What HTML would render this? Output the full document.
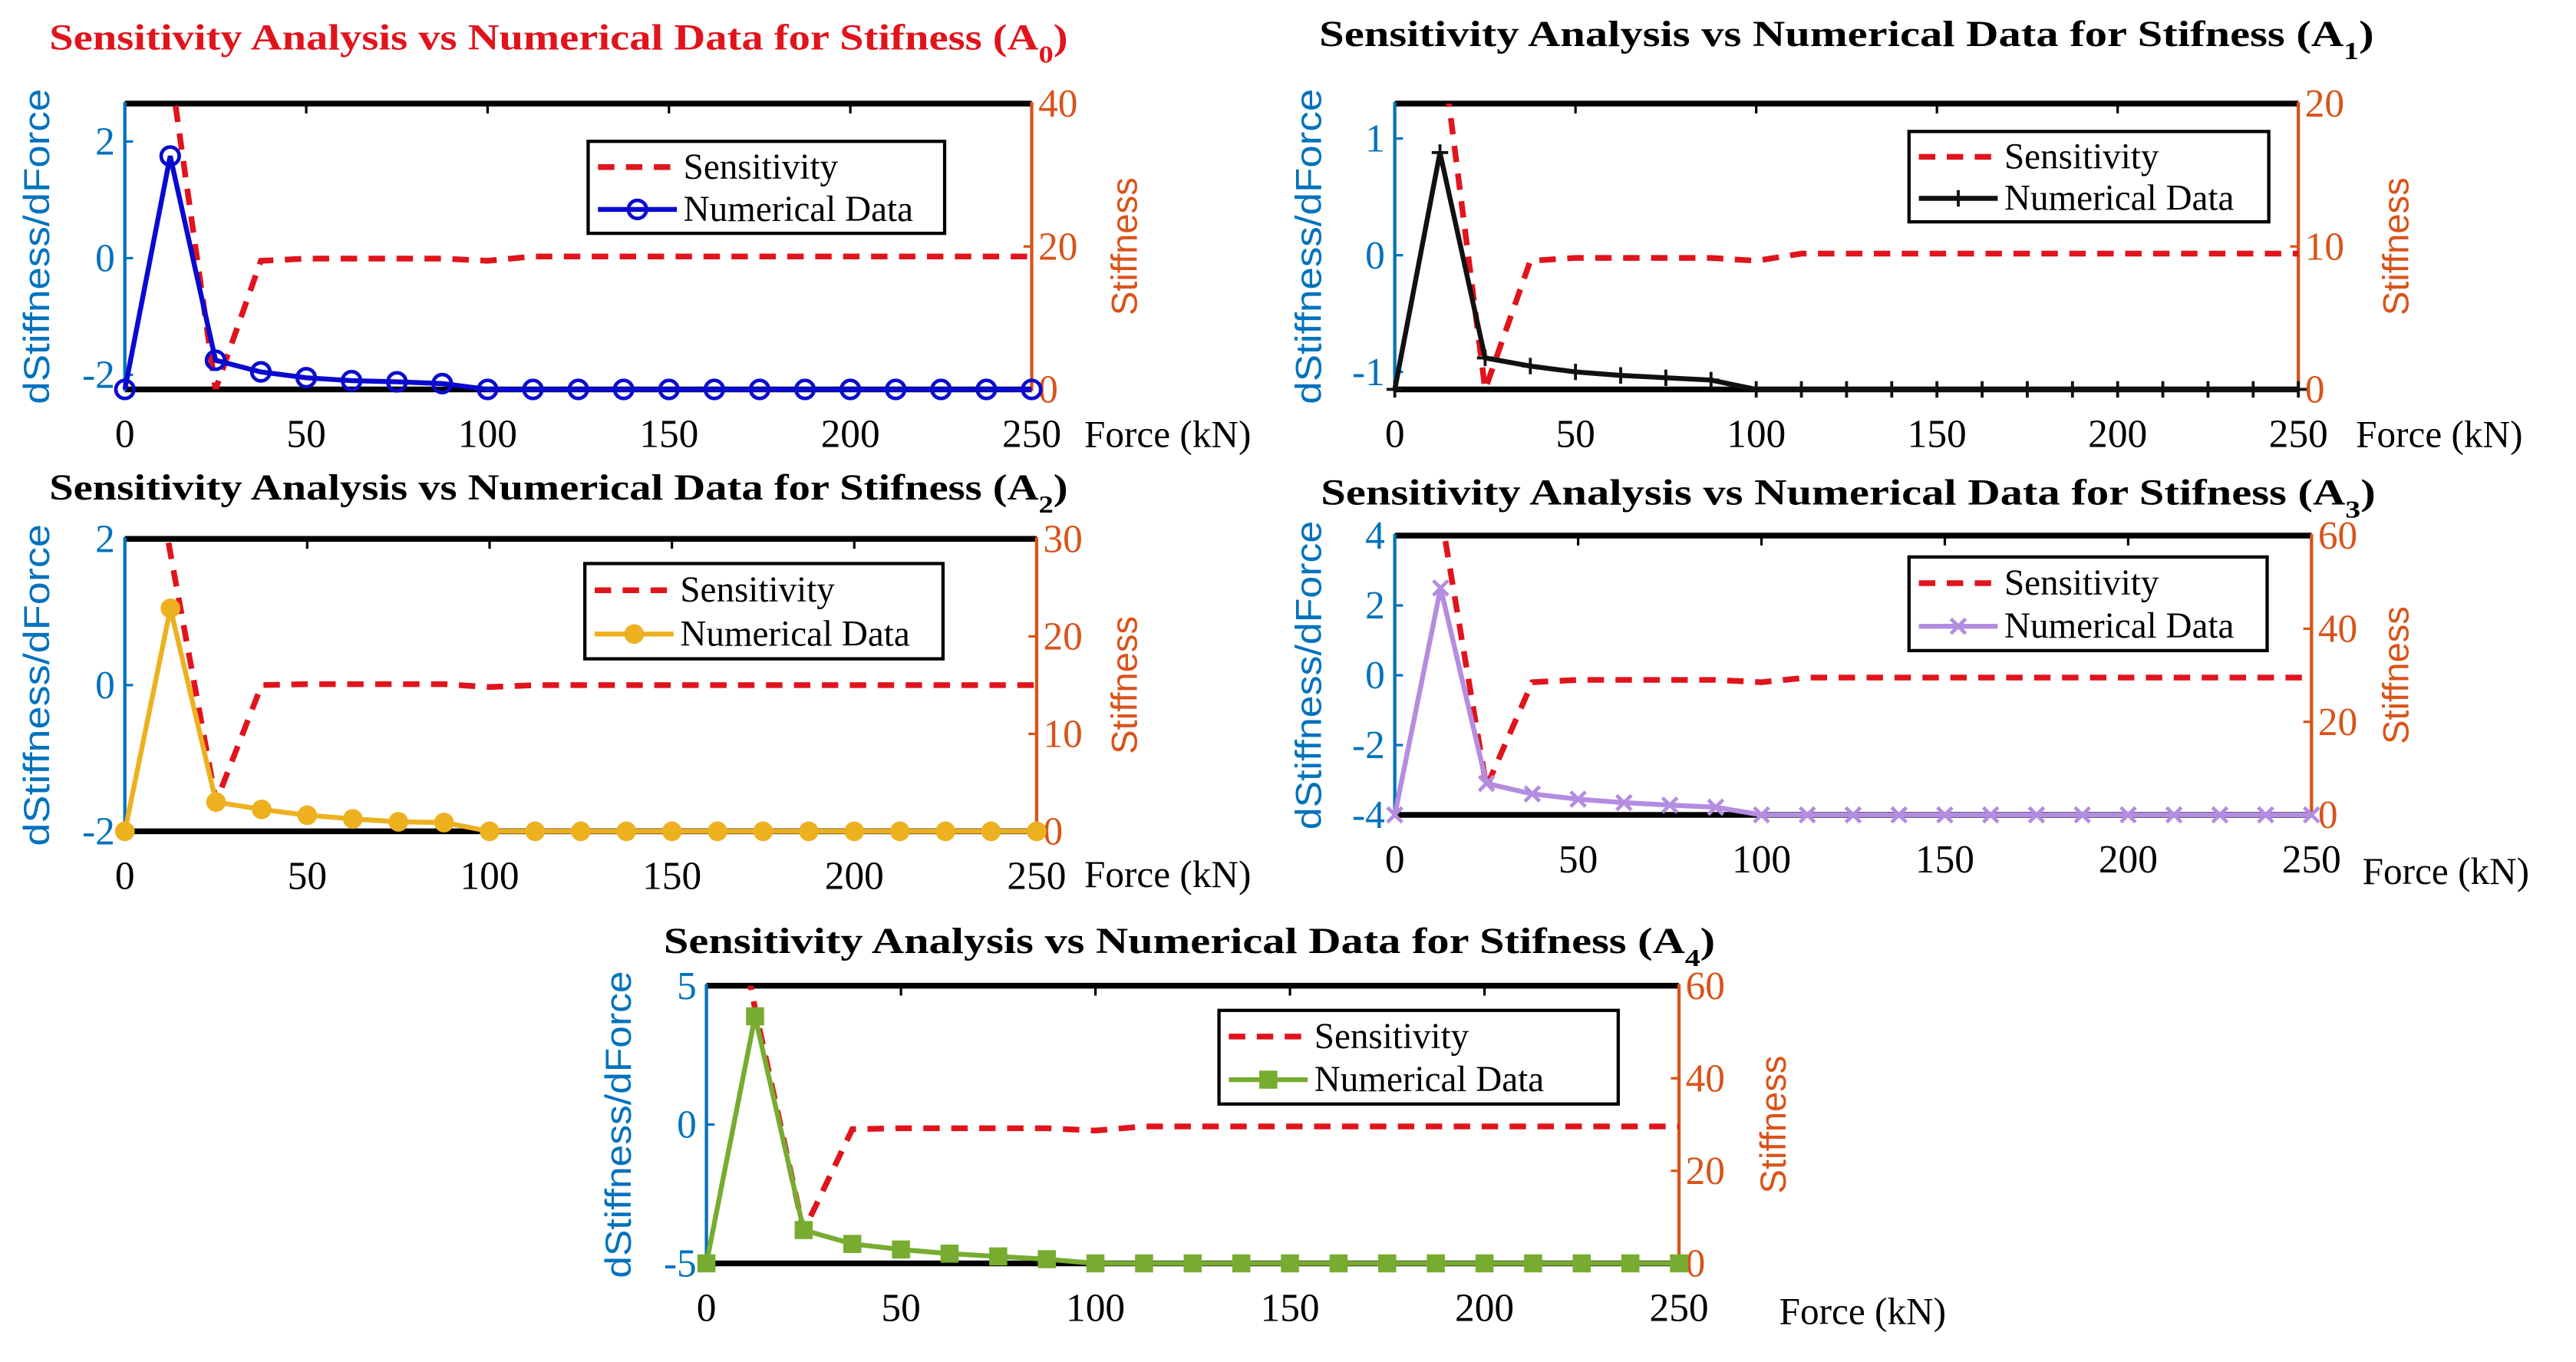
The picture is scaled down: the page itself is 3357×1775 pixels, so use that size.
<!DOCTYPE html>
<html><head><meta charset="utf-8">
<style>
html,body{margin:0;padding:0;background:#fff;}
svg{display:block;}
text{font-family:"Liberation Serif",serif;}
</style></head>
<body>
<svg id="fig" xmlns="http://www.w3.org/2000/svg" width="3357" height="1775" viewBox="0 0 1568 829"></svg>
<script>
const xForce = [0,12.5,25,37.5,50,62.5,75,87.5,100,112.5,125,137.5,150,162.5,175,187.5,200,212.5,225,237.5,250];
const xTicks = [0,50,100,150,200,250];

const numA0 = [-2.25,1.75,-1.75,-1.95,-2.05,-2.1,-2.12,-2.15,-2.25,-2.25,-2.25,-2.25,-2.25,-2.25,-2.25,-2.25,-2.25,-2.25,-2.25,-2.25,-2.25];
const senA0 = [90,45,0,18,18.3,18.3,18.3,18.3,18.0,18.6,18.6,18.6,18.6,18.6,18.6,18.6,18.6,18.6,18.6,18.6,18.6];
const leftTicksA0 = [-2,0,2];
const rightTicksA0 = [0,20,40];

const numA1 = [-1.15,0.88,-0.88,-0.95,-1.0,-1.03,-1.05,-1.07,-1.15,-1.15,-1.15,-1.15,-1.15,-1.15,-1.15,-1.15,-1.15,-1.15,-1.15,-1.15,-1.15];
const senA1 = [50,25,0,9,9.2,9.2,9.2,9.2,9.0,9.5,9.5,9.5,9.5,9.5,9.5,9.5,9.5,9.5,9.5,9.5,9.5];
const leftTicksA1 = [-1,0,1];
const rightTicksA1 = [0,10,20];

const numA2 = [-2,1.05,-1.6,-1.7,-1.78,-1.83,-1.87,-1.88,-2,-2,-2,-2,-2,-2,-2,-2,-2,-2,-2,-2,-2];
const senA2 = [55,28.5,3,15,15.1,15.1,15.1,15.1,14.8,15,15,15,15,15,15,15,15,15,15,15,15];
const leftTicksA2 = [-2,0,2];
const rightTicksA2 = [0,10,20,30];

const numA3 = [-4,2.5,-3.1,-3.4,-3.55,-3.65,-3.72,-3.78,-4,-4,-4,-4,-4,-4,-4,-4,-4,-4,-4,-4,-4];
const senA3 = [130,65,6,28.5,29,29,29,29,28.5,29.5,29.5,29.5,29.5,29.5,29.5,29.5,29.5,29.5,29.5,29.5,29.5];
const leftTicksA3 = [-4,-2,0,2,4];
const rightTicksA3 = [0,20,40,60];

const numA4 = [-5,3.9,-3.8,-4.3,-4.5,-4.65,-4.75,-4.85,-5,-5,-5,-5,-5,-5,-5,-5,-5,-5,-5,-5,-5];
const senA4 = [110,55,7,29,29.2,29.2,29.2,29.2,28.7,29.6,29.6,29.6,29.6,29.6,29.6,29.6,29.6,29.6,29.6,29.6,29.6];
const leftTicksA4 = [-5,0,5];
const rightTicksA4 = [0,20,40,60];

const NS = 'http://www.w3.org/2000/svg';
const svg = document.getElementById('fig');
function mk(tag, attrs, parent, text){
  const e = document.createElementNS(NS, tag);
  for (const k in attrs) e.setAttribute(k, attrs[k]);
  if (text !== undefined) e.textContent = text;
  (parent||svg).appendChild(e);
  return e;
}

const panels = [
 {id:'a0', sub:'0', titleColor:'#e0141c', tx:30, ty:30, tw:620, L:76,R:628,T:63,B:237, yl:[-2.25,2.65], yr:[0,40], num:numA0, sen:senA0, lt:leftTicksA0, rt:rightTicksA0, color:'#0a0ad0', marker:'circle', lg:[358,86,217,56], forceX:660, forceY:272, ylabX:30, rlabX:692},
 {id:'a1', sub:'1', titleColor:'#000', tx:803, ty:28, tw:642, L:849,R:1399,T:63,B:237, yl:[-1.15,1.3], yr:[0,20], num:numA1, sen:senA1, lt:leftTicksA1, rt:rightTicksA1, color:'#111', marker:'plus', lg:[1162,80,219,55], forceX:1434, forceY:272, ylabX:804, rlabX:1466},
 {id:'a2', sub:'2', titleColor:'#000', tx:30, ty:304, tw:620, L:76,R:631,T:328,B:506, yl:[-2,2], yr:[0,30], num:numA2, sen:senA2, lt:leftTicksA2, rt:rightTicksA2, color:'#edb120', marker:'fcircle', lg:[356,343,218,58], forceX:660, forceY:540, ylabX:30, rlabX:692},
 {id:'a3', sub:'3', titleColor:'#000', tx:804, ty:307, tw:642, L:849,R:1407,T:326,B:496, yl:[-4,4], yr:[0,60], num:numA3, sen:senA3, lt:leftTicksA3, rt:rightTicksA3, color:'#b48ce0', marker:'x', lg:[1162,339,218,57], forceX:1438, forceY:538, ylabX:804, rlabX:1466},
 {id:'a4', sub:'4', titleColor:'#000', tx:404, ty:580, tw:640, L:430,R:1022,T:600,B:769, yl:[-5,5], yr:[0,60], num:numA4, sen:senA4, lt:leftTicksA4, rt:rightTicksA4, color:'#77ac30', marker:'square', lg:[742,615,243,57], forceX:1083, forceY:806, ylabX:384, rlabX:1087}
];

panels.forEach(p => {
  const g = mk('g', {});
  
  
  const xs = v => p.L + (v - 0) / 250 * (p.R - p.L);
  const yL = v => p.B - (v - p.yl[0]) / (p.yl[1] - p.yl[0]) * (p.B - p.T);
  const yR = v => p.B - (v - p.yr[0]) / (p.yr[1] - p.yr[0]) * (p.B - p.T);

  const t = mk('text', {x:p.tx, y:p.ty, 'font-size':22, 'font-weight':'bold', fill:p.titleColor, textLength:p.tw, lengthAdjust:'spacingAndGlyphs'}, g);
  
  
  t.appendChild(document.createTextNode('Sensitivity Analysis vs Numerical Data for Stifness (A'));
  mk('tspan', {dy:8, 'font-size':15}, t, p.sub);
  mk('tspan', {dy:-8}, t, ')');

  const cp = mk('clipPath', {id:'clip-' + p.id}, g);
  mk('rect', {x:p.L, y:p.T, width:p.R-p.L, height:p.B-p.T}, cp);

  xTicks.forEach(v => {
    const tk = mk('line', {x1:xs(v), x2:xs(v), y1:p.T, y2:p.T+6, stroke:'#000', 'stroke-width':1.5}, g);
    
    
    const lb = mk('text', {x:xs(v), y:p.B+35, 'font-size':24, 'text-anchor':'middle', fill:'#000'}, g, String(v));
    
    
  });
  p.lt.forEach(v => {
    const tk = mk('line', {x1:p.L, x2:p.L+5, y1:yL(v), y2:yL(v), stroke:'#0072bd', 'stroke-width':1.5}, g);
    
    
    const lb = mk('text', {x:p.L-6, y:yL(v)+8, 'font-size':24, 'text-anchor':'end', fill:'#0072bd'}, g, String(v));
    
    
  });
  p.rt.forEach(v => {
    const tk = mk('line', {x1:p.R-5, x2:p.R, y1:yR(v), y2:yR(v), stroke:'#d95319', 'stroke-width':1.5}, g);
    
    
    const lb = mk('text', {x:p.R+4, y:yR(v)+8, 'font-size':24, fill:'#d95319'}, g, String(v));
    
    
  });

  const top = mk('line', {x1:p.L, x2:p.R, y1:p.T, y2:p.T, stroke:'#000', 'stroke-width':3.5}, g);
  
  
  const bot = mk('line', {x1:p.L, x2:p.R, y1:p.B, y2:p.B, stroke:'#000', 'stroke-width':3.5}, g);
  
  
  const la = mk('line', {x1:p.L, x2:p.L, y1:p.T-1, y2:p.B+1, stroke:'#0072bd', 'stroke-width':2}, g);
  
  
  const ra = mk('line', {x1:p.R, x2:p.R, y1:p.T-1, y2:p.B+1, stroke:'#d95319', 'stroke-width':2}, g);
  
  

  const sp = p.sen.map((v,i) => (i?'L':'M') + xs(xForce[i]).toFixed(2) + ',' + yR(v).toFixed(2)).join(' ');
  const sl = mk('path', {d:sp, fill:'none', stroke:'#e0141c', 'stroke-width':3.5, 'stroke-dasharray':'10,7', 'clip-path':'url(#clip-'+p.id+')'}, g);
  
  

  const np = p.num.map((v,i) => (i?'L':'M') + xs(xForce[i]).toFixed(2) + ',' + yL(v).toFixed(2)).join(' ');
  const nl = mk('path', {d:np, fill:'none', stroke:p.color, 'stroke-width':3}, g);
  
  

  function marker(cx, cy, parent){
    let m;
    if (p.marker === 'circle') m = mk('circle', {cx:cx, cy:cy, r:5.5, fill:'none', stroke:p.color, 'stroke-width':2.2}, parent);
    else if (p.marker === 'fcircle') m = mk('circle', {cx:cx, cy:cy, r:6, fill:p.color}, parent);
    else if (p.marker === 'square') m = mk('rect', {x:cx-5.5, y:cy-5.5, width:11, height:11, fill:p.color}, parent);
    else if (p.marker === 'plus') m = mk('path', {d:`M${cx-5},${cy}H${cx+5}M${cx},${cy-5}V${cy+5}`, stroke:p.color, 'stroke-width':1.8}, parent);
    else m = mk('path', {d:`M${cx-4.5},${cy-4.5}L${cx+4.5},${cy+4.5}M${cx-4.5},${cy+4.5}L${cx+4.5},${cy-4.5}`, stroke:p.color, 'stroke-width':2.2}, parent);
    return m;
  }
  p.num.forEach((v,i) => {
    const m = marker(xs(xForce[i]), yL(v), g);
    
    
  });

  const cy = (p.T + p.B) / 2;
  const yl = mk('text', {x:p.ylabX, y:cy, 'font-size':22, fill:'#0072bd', 'text-anchor':'middle', transform:`rotate(-90 ${p.ylabX} ${cy})`, style:'font-family:"Liberation Sans",sans-serif', textLength:(p.B-p.T)+18, lengthAdjust:'spacingAndGlyphs'}, g, 'dStiffness/dForce');
  
  
  const yr = mk('text', {x:p.rlabX, y:cy, 'font-size':22, fill:'#d95319', 'text-anchor':'middle', transform:`rotate(-90 ${p.rlabX} ${cy})`, style:'font-family:"Liberation Sans",sans-serif'}, g, 'Stiffness');
  
  
  const fx = mk('text', {x:p.forceX, y:p.forceY, 'font-size':23, fill:'#000'}, g, 'Force (kN)');
  
  

  const [lx, ly, lw, lh] = p.lg;
  const lgG = mk('g', {}, g);
  
  
  mk('rect', {x:lx, y:ly, width:lw, height:lh, fill:'#fff', stroke:'#000', 'stroke-width':2}, lgG);
  const r1 = ly + lh*0.28, r2 = ly + lh*0.74;
  const e1 = mk('g', {}, lgG);
  
  
  mk('line', {x1:lx+6, x2:lx+54, y1:r1, y2:r1, stroke:'#e0141c', 'stroke-width':3.5, 'stroke-dasharray':'10,7'}, e1);
  mk('text', {x:lx+58, y:r1+7, 'font-size':22, fill:'#000'}, e1, 'Sensitivity');
  const e2 = mk('g', {}, lgG);
  
  
  mk('line', {x1:lx+6, x2:lx+54, y1:r2, y2:r2, stroke:p.color, 'stroke-width':3}, e2);
  marker(lx+30, r2, e2);
  mk('text', {x:lx+58, y:r2+7, 'font-size':22, fill:'#000'}, e2, 'Numerical Data');
});
</script>
</body></html>
